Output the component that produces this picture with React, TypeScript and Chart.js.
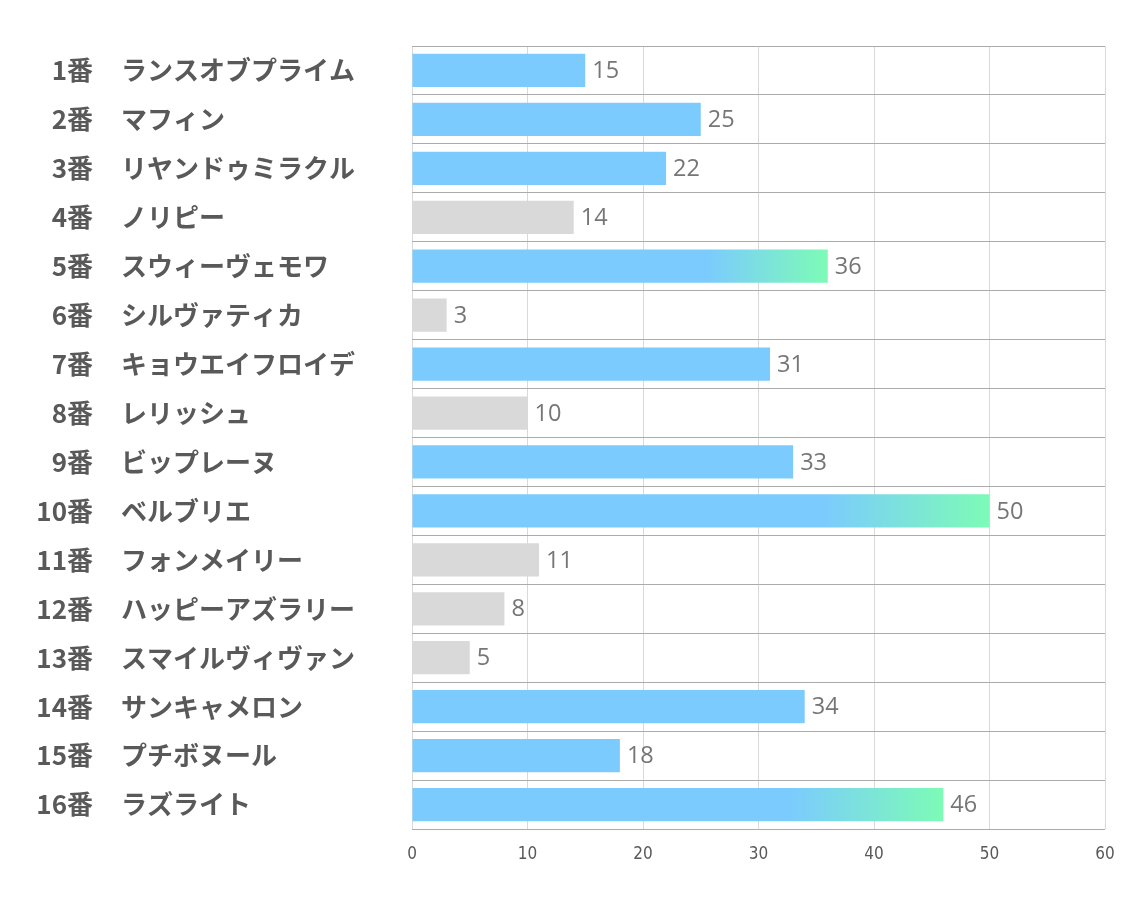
import React, { useEffect, useRef } from "react";
import { Chart, registerables } from "chart.js";

Chart.register(...registerables);

const numbers = ["1番", "2番", "3番", "4番", "5番", "6番", "7番", "8番", "9番", "10番", "11番", "12番", "13番", "14番", "15番", "16番"];
const names = [
  "ランスオブプライム",
  "マフィン",
  "リヤンドゥミラクル",
  "ノリピー",
  "スウィーヴェモワ",
  "シルヴァティカ",
  "キョウエイフロイデ",
  "レリッシュ",
  "ビップレーヌ",
  "ベルブリエ",
  "フォンメイリー",
  "ハッピーアズラリー",
  "スマイルヴィヴァン",
  "サンキャメロン",
  "プチボヌール",
  "ラズライト",
];
const values = [15, 25, 22, 14, 36, 3, 31, 10, 33, 50, 11, 8, 5, 34, 18, 46];
const kinds = ["blue", "blue", "blue", "gray", "grad", "gray", "blue", "gray", "blue", "grad", "gray", "gray", "gray", "blue", "blue", "grad"];
const xTicks = [0, 10, 20, 30, 40, 50, 60];

const BLUE = "#7BCBFE";
const GREEN = "#7DFBB6";
const GRAY = "#D9D9D9";

const labelPlugin = {
  id: "labelPlugin",
  afterDatasetsDraw(chart: any) {
    const ctx = chart.ctx;
    const meta = chart.getDatasetMeta(0);
    const yScale = chart.scales.y;
    ctx.save();
    // value labels
    ctx.font = "23.5px 'Open Sans', 'Noto Sans', sans-serif";
    ctx.fillStyle = "#767676";
    ctx.textAlign = "left";
    ctx.textBaseline = "middle";
    meta.data.forEach((bar: any, i: number) => {
      ctx.fillText(String(values[i]), bar.x + 7, bar.y + 1);
    });
    // category labels
    ctx.font = "bold 26px 'Noto Sans CJK JP', sans-serif";
    ctx.fillStyle = "#595959";
    names.forEach((n, i) => {
      const y = yScale.getPixelForValue(i);
      ctx.textAlign = "right";
      ctx.fillText(numbers[i], 93, y);
      ctx.textAlign = "left";
      ctx.fillText(n, 121, y);
    });
    ctx.restore();
  },
};

export default function App() {
  const ref = useRef<HTMLCanvasElement | null>(null);

  useEffect(() => {
    document.body.style.margin = "0";
    const canvas = ref.current!;
    const chart = new Chart(canvas, {
      type: "bar",
      data: {
        labels: numbers.map((n, i) => n + "　" + names[i]),
        datasets: [
          {
            data: values,
            backgroundColor: (c: any) => {
              const i = c.dataIndex;
              const k = kinds[i];
              if (k === "gray") return GRAY;
              if (k === "blue") return BLUE;
              const xs = c.chart.scales.x;
              if (!xs) return BLUE;
              const x0 = xs.getPixelForValue(0);
              const x1 = xs.getPixelForValue(values[i]);
              const g = c.chart.ctx.createLinearGradient(x0, 0, x1, 0);
              g.addColorStop(0, BLUE);
              g.addColorStop(0.71, BLUE);
              g.addColorStop(1, GREEN);
              return g;
            },
            borderWidth: 0,
            barPercentage: 0.68,
            categoryPercentage: 1,
          },
        ],
      },
      options: {
        indexAxis: "y",
        animation: false,
        responsive: false,
        maintainAspectRatio: false,
        layout: { padding: { left: 412, top: 46, right: 29, bottom: 0 } },
        plugins: {
          legend: { display: false },
          tooltip: { enabled: false },
        },
        scales: {
          x: {
            min: 0,
            max: 60,
            afterBuildTicks: (s: any) => {
              s.ticks = xTicks.map((v) => ({ value: v }));
            },
            afterFit: (s: any) => {
              s.height = 78;
            },
            grid: { color: "#D9D9D9", drawTicks: false, lineWidth: 1 },
            border: { display: false },
            ticks: {
              padding: 15,
              color: "#595959",
              font: { family: "'Liberation Sans Narrow', 'DejaVu Sans Condensed', sans-serif", size: 17 },
            },
          },
          y: {
            grid: { color: "#ABABAB", drawTicks: false, offset: true },
            border: { display: false },
            ticks: { display: false },
            afterFit: (s: any) => {
              s.width = 0;
            },
          },
        },
      },
      plugins: [labelPlugin],
    });
    return () => chart.destroy();
  }, []);

  return <canvas ref={ref} width={1134} height={907} style={{ display: "block" }} />;
}
